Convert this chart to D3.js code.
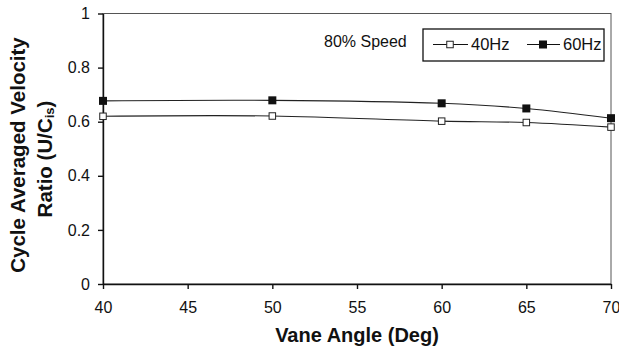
<!DOCTYPE html>
<html><head><meta charset="utf-8">
<script src="https://cdn.jsdelivr.net/npm/d3@7"></script>
<style>body{margin:0;background:#fff}svg{display:block}</style>
</head><body>
<script>
const angles = [40, 50, 60, 65, 70];
const hz40 = [0.620, 0.621, 0.602, 0.597, 0.580];
const hz60 = [0.677, 0.679, 0.668, 0.649, 0.613];
const xTicks = [40, 45, 50, 55, 60, 65, 70];
const yTicks = [0, 0.2, 0.4, 0.6, 0.8, 1];
const seriesNames = ["40Hz", "60Hz"];
const annotation = "80% Speed";

const W = 619, H = 351;
const m = {l: 103, r: 8, t: 13.5, b: 67};
const svg = d3.select("body").append("svg").attr("width", W).attr("height", H);
const x = d3.scaleLinear().domain([40, 70]).range([m.l, W - m.r]);
const y = d3.scaleLinear().domain([0, 1]).range([H - m.b, m.t]);
const font = "'Liberation Sans', Arial, sans-serif";

// frame
svg.append("rect").attr("x", x(40)).attr("y", y(1)).attr("width", x(70) - x(40)).attr("height", y(0) - y(1))
  .attr("fill", "none").attr("stroke", "#555").attr("stroke-width", 1);

const xa = svg.append("g").attr("transform", `translate(0,${y(0)})`)
  .call(d3.axisBottom(x).tickValues(xTicks).tickSize(5).tickSizeOuter(0).tickPadding(13).tickFormat(d3.format("d")));
const ya = svg.append("g").attr("transform", `translate(${x(40)},0)`)
  .call(d3.axisLeft(y).tickValues(yTicks).tickSize(5).tickSizeOuter(0).tickPadding(8).tickFormat(d => d === 0 || d === 1 ? d3.format("d")(d) : d3.format(".1f")(d)));
[xa, ya].forEach(a => {
  a.selectAll("path,line").attr("stroke", "#111").attr("stroke-width", 1.4);
  a.selectAll("text").attr("font-family", font).attr("font-size", 16).attr("fill", "#111");
});

const line = d3.line().x(d => x(d[0])).y(d => y(d[1])).curve(d3.curveCatmullRom.alpha(0.5));
const s40 = angles.map((a, i) => [a, hz40[i]]);
const s60 = angles.map((a, i) => [a, hz60[i]]);
[s40, s60].forEach(s => svg.append("path").datum(s).attr("d", line)
  .attr("fill", "none").attr("stroke", "#222").attr("stroke-width", 1.1));

const ms = 6.5;
svg.selectAll(".m40").data(s40).join("rect")
  .attr("x", d => x(d[0]) - ms / 2).attr("y", d => y(d[1]) - ms / 2).attr("width", ms).attr("height", ms)
  .attr("fill", "#fff").attr("stroke", "#222").attr("stroke-width", 1);
svg.selectAll(".m60").data(s60).join("rect")
  .attr("x", d => x(d[0]) - 4).attr("y", d => y(d[1]) - 4).attr("width", 8).attr("height", 8)
  .attr("fill", "#111");

// annotation
svg.append("text").attr("x", 324).attr("y", 47).text(annotation)
  .attr("font-family", font).attr("font-size", 16).attr("fill", "#111");

// legend
const lg = svg.append("g");
lg.append("rect").attr("x", 423).attr("y", 29).attr("width", 181).attr("height", 32)
  .attr("fill", "#fff").attr("stroke", "#111").attr("stroke-width", 1.3);
const ly = 44.5;
[[433, 468, false], [527, 560, true]].forEach(([x1, x2, filled], i) => {
  lg.append("line").attr("x1", x1).attr("x2", x2).attr("y1", ly).attr("y2", ly).attr("stroke", "#111").attr("stroke-width", 1.2);
  const cx = filled ? 543 : 450;
  if (filled) lg.append("rect").attr("x", cx - 4).attr("y", ly - 4).attr("width", 8).attr("height", 8).attr("fill", "#111");
  else lg.append("rect").attr("x", cx - 3.25).attr("y", ly - 3.25).attr("width", 6.5).attr("height", 6.5).attr("fill", "#fff").attr("stroke", "#222");
  lg.append("text").attr("x", x2 + 3).attr("y", 50).text(seriesNames[i])
    .attr("font-family", font).attr("font-size", 16.5).attr("fill", "#111");
});

// axis titles
svg.append("text").attr("x", (x(40) + x(70)) / 2).attr("y", 342).attr("text-anchor", "middle")
  .text("Vane Angle (Deg)").attr("font-family", font).attr("font-size", 20).attr("font-weight", "bold").attr("fill", "#111");
const yt = svg.append("text").attr("transform", `translate(0,155) rotate(-90)`)
  .attr("text-anchor", "middle").attr("font-family", font).attr("font-size", 20.5).attr("font-weight", "bold").attr("fill", "#111");
yt.append("tspan").attr("x", 0).attr("y", 25).text("Cycle Averaged Velocity");
const t2 = yt.append("tspan").attr("x", -4).attr("y", 52);
t2.append("tspan").text("Ratio (U/C");
t2.append("tspan").attr("font-size", 13).attr("dy", 2).text("is");
t2.append("tspan").attr("dy", -2).text(")");
</script>
</body></html>
